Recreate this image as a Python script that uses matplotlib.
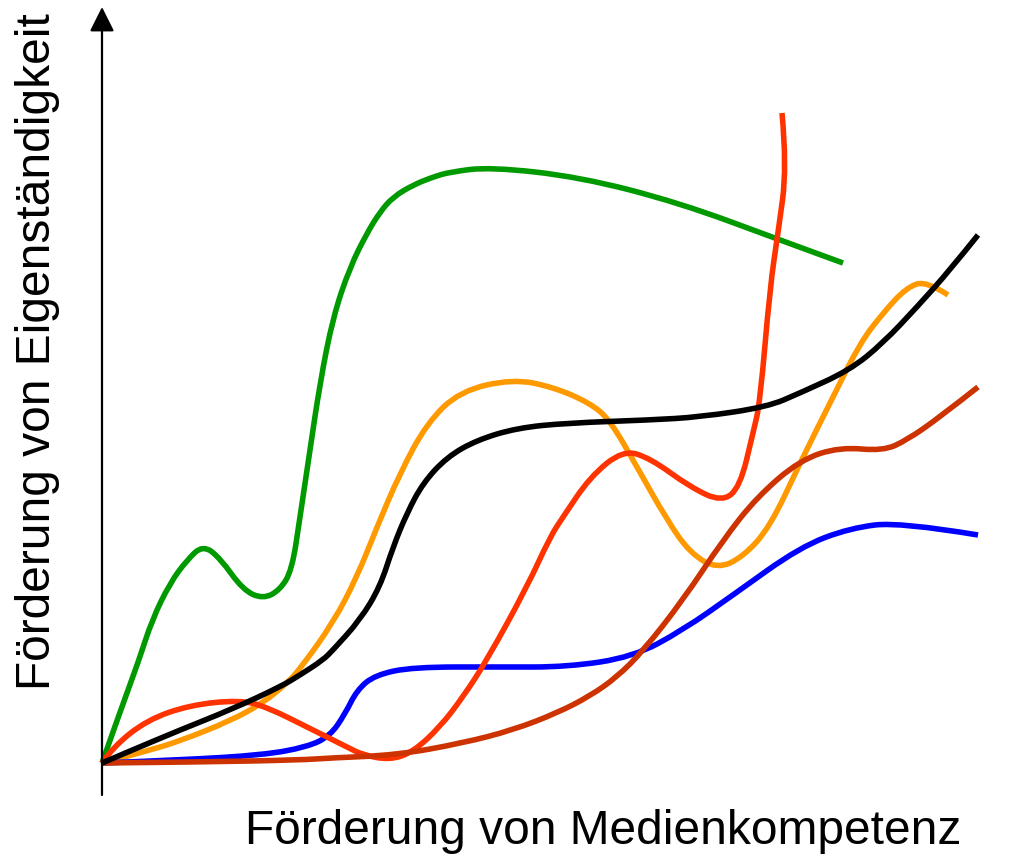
import matplotlib
matplotlib.use('Agg')
import matplotlib.pyplot as plt
from matplotlib.path import Path
from matplotlib.patches import PathPatch

# -------------------------------------- #
# 曲线数据（从原图读出，原点为坐标轴交点）
# -------------------------------------- #
green_x = [0, 18, 37, 50, 68, 85, 101, 118, 141, 161, 178, 190, 198, 208, 218, 231, 248, 265, 278, 291, 311, 331, 348, 388, 478, 578, 678, 741]
green_y = [0, 51, 103, 143, 180, 203, 218, 205, 173, 164, 173, 193, 246, 313, 380, 446, 496, 530, 551, 566, 578, 586, 591, 596, 586, 560, 523, 500]

orange_x = [0, 45, 78, 128, 161, 185, 198, 231, 255, 275, 298, 325, 358, 411, 451, 488, 508, 535, 565, 588, 615, 641, 668, 698, 731, 758, 781, 805, 825, 846]
orange_y = [0, 12, 22, 42, 60, 80, 94, 140, 186, 236, 290, 340, 372, 384, 376, 360, 343, 296, 243, 210, 194, 206, 236, 300, 366, 420, 450, 476, 482, 468]

blue_x = [0, 78, 161, 205, 228, 243, 255, 273, 311, 398, 465, 531, 581, 631, 698, 748, 798, 876]
blue_y = [0, 3, 8, 16, 27, 49, 73, 88, 96, 96, 96, 106, 133, 168, 216, 235, 241, 228]

red_x = [0, 11, 45, 88, 138, 165, 211, 245, 261, 288, 311, 338, 361, 385, 425, 448, 461, 488, 521, 548, 588, 620, 638, 651, 658, 668, 676, 685, 680]
red_y = [0, 16, 43, 58, 63, 56, 33, 16, 8, 3, 11, 36, 66, 103, 176, 226, 246, 286, 313, 305, 276, 261, 276, 330, 360, 476, 530, 596, 650]

brown_x = [0, 98, 198, 228, 295, 361, 411, 455, 488, 515, 541, 581, 621, 655, 698, 738, 781, 805, 838, 876]
brown_y = [0, 1, 3, 5, 8, 20, 33, 50, 67, 86, 112, 163, 223, 266, 303, 316, 312, 323, 346, 376]

black_x = [0, 28, 78, 128, 178, 198, 221, 231, 258, 278, 291, 305, 321, 345, 375, 415, 465, 548, 598, 665, 698, 748, 781, 815, 848, 876]
black_y = [0, 12, 33, 53, 76, 88, 103, 113, 143, 176, 216, 250, 280, 306, 323, 335, 340, 343, 346, 356, 370, 393, 420, 456, 493, 528]

xlabel = 'Förderung von Medienkompetenz'
ylabel = 'Förderung von Eigenständigkeit'

plt.rcParams['font.family'] = ['Liberation Sans', 'DejaVu Sans']


def smooth_path(xs, ys):
    # 以读出的点为控制点，用二次贝塞尔段连成平滑曲线
    pts = list(zip(xs, ys))
    verts = [pts[0]]
    codes = [Path.MOVETO]
    for i in range(1, len(pts) - 1):
        if i < len(pts) - 2:
            end = ((pts[i][0] + pts[i + 1][0]) / 2, (pts[i][1] + pts[i + 1][1]) / 2)
        else:
            end = pts[i + 1]
        verts += [pts[i], end]
        codes += [Path.CURVE3, Path.CURVE3]
    return Path(verts, codes)


fig = plt.figure(figsize=(10.31, 8.61), dpi=100)
ax = fig.add_axes([0, 0, 1, 1])
ax.set_xlim(-102, 929)
ax.set_ylim(-98, 763)
ax.axis('off')

# 坐标轴箭头
arrow = dict(arrowstyle='-|>,head_length=1.0,head_width=0.5', lw=1.6, color='black',
             mutation_scale=15, shrinkA=0, shrinkB=0)
ax.annotate('', xy=(938, 0), xytext=(-14, 0), arrowprops=arrow)
ax.annotate('', xy=(0, 756), xytext=(0, -32), arrowprops=arrow)

# 曲线
curves = [
    (green_x, green_y, '#009900'),
    (orange_x, orange_y, '#ff9900'),
    (blue_x, blue_y, '#0000ff'),
    (red_x, red_y, '#ff3300'),
    (brown_x, brown_y, '#cc3300'),
    (black_x, black_y, 'black'),
]
for xs, ys, c in curves:
    ax.add_patch(PathPatch(smooth_path(xs, ys), fill=False, edgecolor=c, lw=4,
                           joinstyle='round', capstyle='butt'))

fig.text(603 / 1031, 1 - 832 / 861, xlabel, ha='center', va='center', fontsize=34.5)
fig.text(38 / 1031, 1 - 352 / 861, ylabel, ha='center', va='center', fontsize=34.5, rotation=90)

plt.savefig('out.png', dpi=100)
